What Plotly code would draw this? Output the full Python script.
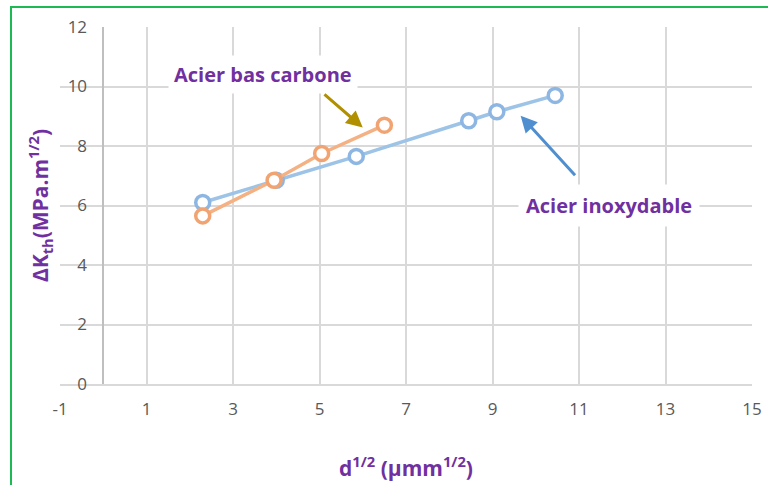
import plotly.graph_objects as go

# Data
inox_x = [2.3, 4.0, 5.85, 8.45, 9.1, 10.45]
inox_y = [6.1, 6.85, 7.65, 8.85, 9.15, 9.7]
carb_x = [2.3, 3.95, 5.05, 6.5]
carb_y = [5.65, 6.85, 7.75, 8.7]

x_ticks = [-1, 1, 3, 5, 7, 9, 11, 13, 15]
y_ticks = [0, 2, 4, 6, 8, 10, 12]

purple = "#7030A0"
grid = "#D9D9D9"
tickc = "#595959"
font_fam = "'Open Sans', Lato, sans-serif"

fig = go.Figure()

fig.add_trace(go.Scatter(
    x=inox_x, y=inox_y, mode="lines+markers", name="Acier inoxydable",
    line=dict(color="#9DC3E6", width=3.5),
    marker=dict(symbol="circle", size=14, color="white",
                line=dict(color="#8DB6E2", width=3.5)),
))
fig.add_trace(go.Scatter(
    x=carb_x, y=carb_y, mode="lines+markers", name="Acier bas carbone",
    line=dict(color="#F4B183", width=3.5),
    marker=dict(symbol="circle", size=14, color="white",
                line=dict(color="#F1A472", width=3.5)),
))

# Labels with arrows
fig.add_annotation(x=3.7, y=10.4, text="<b>Acier bas carbone</b>", showarrow=False,
                   font=dict(color=purple, size=20, family=font_fam),
                   bgcolor="white", borderpad=5)
fig.add_annotation(x=6.0, y=8.62, ax=5.08, ay=9.78, axref="x", ayref="y",
                   text="", showarrow=True, arrowhead=2, arrowsize=1.1,
                   arrowwidth=3, arrowcolor="#B09000")
fig.add_annotation(x=11.7, y=6.0, text="<b>Acier inoxydable</b>", showarrow=False,
                   font=dict(color=purple, size=20, family=font_fam),
                   bgcolor="white", borderpad=7)
fig.add_annotation(x=9.65, y=9.02, ax=10.94, ay=6.97, axref="x", ayref="y",
                   text="", showarrow=True, arrowhead=2, arrowsize=1.1,
                   arrowwidth=3, arrowcolor="#4F8FD0")

# Green frame around the chart
fig.add_shape(type="rect", xref="paper", yref="paper",
              x0=(11 - 60) / 692, x1=1.2, y0=-0.5, y1=1 + (27 - 7) / 357,
              line=dict(color="#1DB954", width=2), fillcolor="rgba(0,0,0,0)",
              layer="below")

fig.update_layout(
    width=768, height=485,
    margin=dict(l=60, r=16, t=27, b=101, autoexpand=False),
    paper_bgcolor="white", plot_bgcolor="white",
    showlegend=False,
    font=dict(family=font_fam, color=tickc, size=16),
    xaxis=dict(
        range=[-1, 15], tickvals=x_ticks, ticktext=[str(v) for v in x_ticks],
        showgrid=True, gridcolor=grid, gridwidth=1.5,
        zeroline=False, showline=True, linecolor=grid, linewidth=1.5,
        ticks="", tickfont=dict(size=17, color=tickc), automargin=False,
        ticklabelstandoff=9,
        title=dict(text="<b>d<sup>1/2</sup> (µmm<sup>1/2</sup>)</b>",
                   font=dict(color=purple, size=21), standoff=42),
        anchor="y",
    ),
    yaxis=dict(
        range=[0, 12], tickvals=y_ticks, ticktext=[str(v) for v in y_ticks],
        showgrid=True, gridcolor=grid, gridwidth=1.5,
        zeroline=False, showline=True, linecolor="#BFBFBF", linewidth=1.5,
        ticks="", tickfont=dict(size=17, color=tickc), automargin=False,
        anchor="free", position=1 / 16, ticklabelstandoff=12,
        title=dict(text="<b>ΔK<sub>th</sub>(MPa.m<sup>1/2</sup>)</b>",
                   font=dict(color=purple, size=21), standoff=12),
    ),
)

fig.write_html("out.html")
